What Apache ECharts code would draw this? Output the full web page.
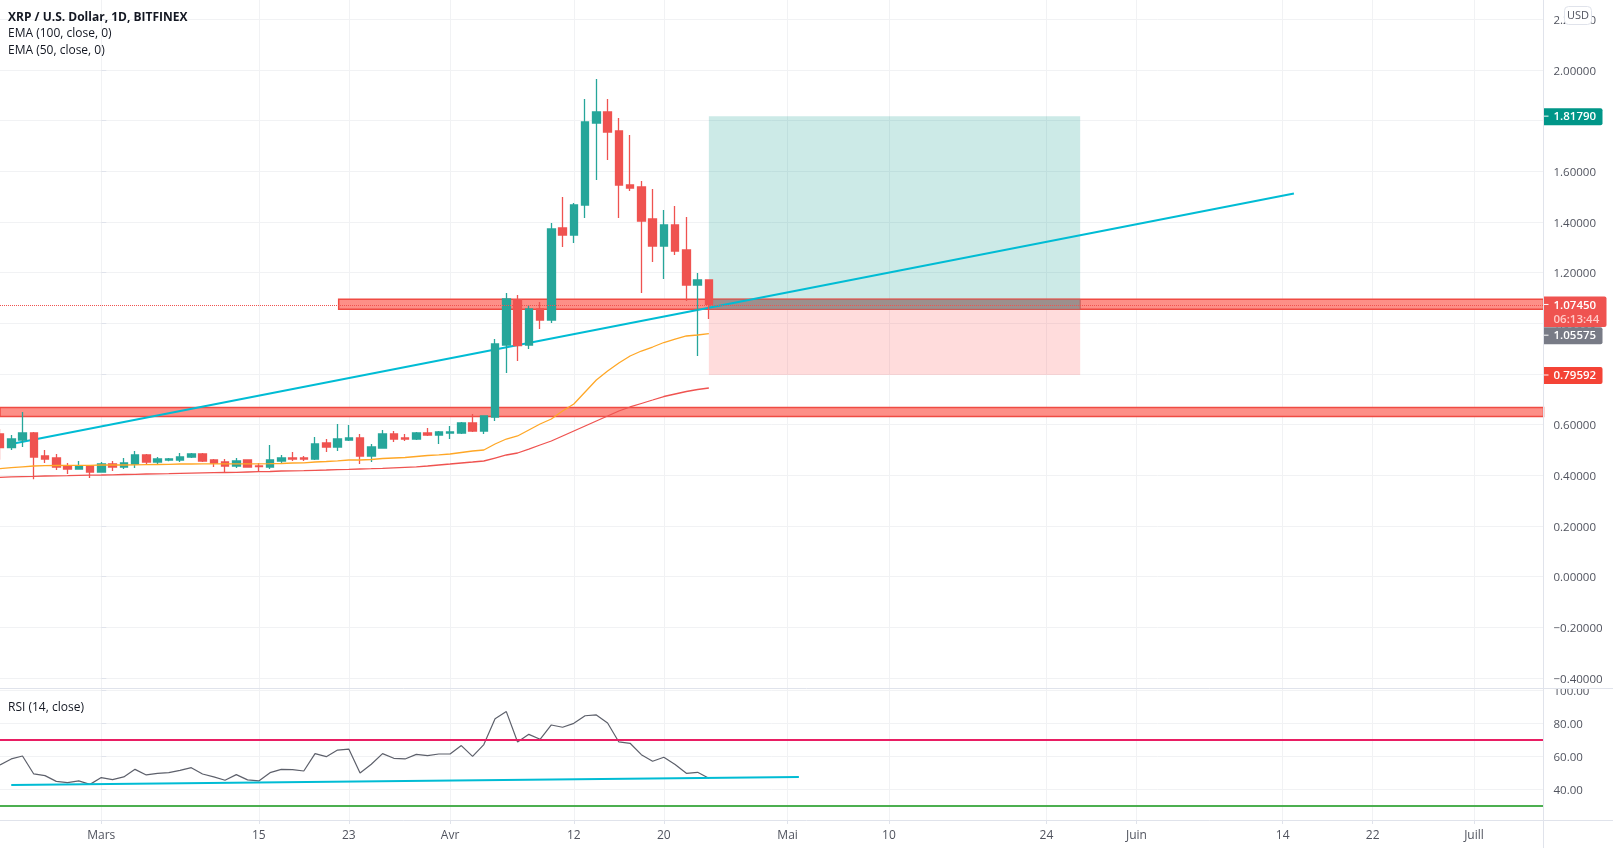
<!DOCTYPE html>
<html>
<head>
<meta charset="utf-8">
<title>XRP / U.S. Dollar</title>
<style>
  html, body { margin: 0; padding: 0; background: #fff; }
  #chart { width: 1613px; height: 848px; }
</style>
<script src="https://cdn.jsdelivr.net/npm/echarts@6/dist/echarts.min.js"></script>
</head>
<body>
<div id="chart"></div>
<script>
// days are counted from 1 March, candles start 9 days before that
var firstDay = -9;

var opens = [.5630, .5090, .5393, .5669, .4761, .4682, .4366, .4248, .4366, .4129, .4445, .4327, .4445, .4801, .4524, .4603,
    .4603, .4722, .4840, .4603, .4524, .4366, .4603, .4366, .4327, .4564, .4682, .4682, .4643, .5274, .5116, .5393,
    .5472, .4761, .5077, .5630, .5472, .5432, .5669, .5590, .5669, .5669, .6064, .5748, .6301, .9143, 1.0920, .9143,
    1.0565, 1.0130, 1.3762, 1.3486, 1.4670, 1.7908, 1.8342, 1.7592, 1.5460, 1.5381, 1.4118, 1.3052, 1.3881, 1.2894, 1.1512, 1.1709];
var closes = [.5090, .5432, .5669, .4722, .4643, .4327, .4248, .4366, .4129, .4445, .4327, .4485, .4801, .4524, .4643, .4643,
    .4722, .4840, .4564, .4485, .4366, .4564, .4327, .4340, .4603, .4682, .4643, .4643, .5235, .5116, .5432, .5472,
    .4761, .5116, .5630, .5432, .5432, .5669, .5590, .5709, .5709, .6064, .5748, .6340, .9183, 1.0960, .9116, 1.0565,
    1.0130, 1.3723, 1.3486, 1.4670, 1.7947, 1.8342, 1.7552, 1.5460, 1.5342, 1.4039, 1.3052, 1.3881, 1.2854, 1.1512, 1.1709, 1.0745];
var lows = [.4616, .4998, .5116, .3840, .4485, .4208, .4051, .4248, .3893, .4103, .4169, .4248, .4287, .4406, .4445, .4551,
    .4524, .4682, .4524, .4327, .4129, .4287, .4327, .4169, .4248, .4485, .4564, .4564, .4603, .4919, .4958, .5353,
    .4445, .4524, .5077, .5314, .5353, .5393, .5551, .5235, .5432, .5630, .5709, .5630, .6143, .8038, .8512, .8985,
    .9775, 1.0012, 1.3012, 1.3170, 1.4157, 1.5657, 1.6447, 1.4157, 1.5223, 1.1196, 1.2420, 1.1749, 1.2697, 1.0880, .8709, 1.0170];
var highs = [.5827, .5590, .6498, .5709, .4998, .4840, .4485, .4564, .4392, .4524, .4564, .4682, .4958, .4840, .4722, .4682,
    .4879, .4879, .4879, .4643, .4643, .4682, .4603, .4485, .5195, .4801, .4919, .4761, .5511, .5432, .6024, .5985,
    .5630, .5235, .5788, .5748, .5630, .5709, .5866, .5748, .5945, .6103, .6419, .6340, .9380, 1.1196, 1.1117, 1.0722,
    1.0841, 1.3960, 1.4986, 1.4749, 1.8855, 1.9645, 1.8855, 1.8105, 1.7434, 1.5618, 1.5302, 1.4473, 1.4631, 1.4197, 1.1986, 1.1709];

var ema50 = [.4260, .4299, .4335, .4366, .4378, .4386, .4390, .4394, .4394, .4406, .4406, .4406, .4410, .4418, .4426, .4433,
    .4445, .4445, .4449, .4449, .4449, .4453, .4453, .4453, .4457, .4465, .4485, .4493, .4524, .4544, .4572, .4603,
    .4603, .4623, .4662, .4682, .4702, .4741, .4781, .4808, .4840, .4899, .4958, .4998, .5235, .5432, .5551, .5788,
    .6024, .6222, .6538, .6814, .7288, .7761, .8117, .8433, .8709, .8906, .9064, .9242, .9380, .9499, .9538, .9589];
var ema100 = [.3920, .3936, .3948, .3956, .3972, .3980, .3987, .3999, .4007, .4011, .4019, .4031, .4039, .4051, .4058, .4066,
    .4078, .4086, .4094, .4102, .4110, .4118, .4130, .4141, .4149, .4169, .4177, .4185, .4197, .4208, .4220, .4232,
    .4248, .4260, .4276, .4295, .4315, .4335, .4366, .4406, .4445, .4485, .4524, .4564, .4682, .4801, .4880, .5037,
    .5196, .5353, .5551, .5748, .5946, .6143, .6340, .6538, .6696, .6834, .6972, .7110, .7209, .7308, .7387, .7446];
var rsi = [54.85, 58.5, 60.3, 49.4, 48.4, 44.9, 44.1, 45.2, 43.1, 47.2, 46.0, 47.6, 52.2, 48.8, 49.8, 50.2,
    51.6, 53.2, 49.4, 47.6, 45.6, 49.0, 45.8, 45.2, 50.2, 52.2, 52.0, 51.2, 61.7, 59.9, 63.9, 64.5,
    50.0, 55.3, 61.7, 58.9, 58.5, 61.3, 60.5, 61.5, 61.5, 66.6, 60.1, 67.2, 82.9, 87.2, 68.8, 73.4,
    70.4, 79.1, 77.7, 80.1, 84.7, 85.2, 80.3, 68.8, 68.0, 61.1, 57.1, 59.5, 55.1, 49.8, 50.4, 46.8];

// axes
var dayTicks = [0, 14, 22, 31, 42, 50, 61, 70, 84, 92, 105, 113, 122];
var dayLabels = ['Mars', '15', '23', 'Avr', '12', '20', 'Mai', '10', '24', 'Juin', '14', '22', 'Juill'];
var priceTicks = [2.2, 2, 1.8, 1.6, 1.4, 1.2, 1, 0.8, 0.6, 0.4, 0.2, 0, -0.2, -0.4];
var rsiTicks = [100, 80, 60, 40];

// drawings: [day, price] ends
var trendPrice = [[-8, .5235], [106, 1.5124]];
var trendRsi = [[-8, 42.7], [62, 47.6]];
var lastPrice = 1.0745;
var zoneHigh = [1.0947, 1.0553];
var zoneLow = [.6676, .6321];
var zoneHighStart = 21.1;
var longStart = 54;
var longEnd = 87;
var takeProfit = 1.8179;
var entry = 1.05575;
var stopLoss = .79592;

// price tags on the right axis
var tagValues = [1.8179, 1.0745, 1.05575, .79592];
var tagTexts = ['1.81790', '1.07450', '1.05575', '0.79592'];
var tagColors = ['#009688', '#ef5350', '#787b86', '#f44336'];
var countdown = '06:13:44';

var font = '"Open Sans", sans-serif';
var gridColor = '#f1f2f4';
var lineColor = '#e0e3eb';
var textColor = '#50535e';
var xMin = -9;
var xMax = 128.18;

function series2(days, values) {
    return values.map(function (v, i) { return [days + i, v]; });
}

var candles = opens.map(function (o, i) {
    return [firstDay + i, o, closes[i], lows[i], highs[i]];
});

function area(x0, x1, top, bottom, style) {
    return [{ xAxis: x0, yAxis: top, itemStyle: style }, { xAxis: x1, yAxis: bottom }];
}

var zoneStyle = { color: '#fd8f87', borderColor: '#ef4b43', borderWidth: 1.5, opacity: 1 };

function renderTag(params, api) {
    var i = params.dataIndex;
    var p = api.coord([xMax, api.value(1)]);
    var isLast = i === 1;
    // the entry tag would sit under the last price tag, the chart pushes it below
    var cy = i === 2 ? p[1] + 26 : p[1];
    var kids = [
        { type: 'rect', shape: { x: p[0], y: cy - 8, width: isLast ? 63 : 59, height: isLast ? 30.5 : 17, r: [0, 2, 2, 0] }, style: { fill: tagColors[i] } },
        { type: 'rect', shape: { x: p[0], y: cy - 0.5, width: 5, height: 1 }, style: { fill: '#fff' } },
        { type: 'text', style: { text: tagTexts[i], x: p[0] + 10, y: cy + 1, fill: '#fff', font: '600 11.5px ' + font, textVerticalAlign: 'middle' } }
    ];
    if (isLast) {
        kids.push({ type: 'text', style: { text: countdown, x: p[0] + 10, y: cy + 15, fill: '#ffc9c6', font: '600 11.5px ' + font, textVerticalAlign: 'middle' } });
    }
    return { type: 'group', children: kids };
}

// rich text so the digits sit about a pixel lower, as in the picture
var axisRich = { t: { color: textColor, fontFamily: font, fontSize: 11.5, padding: [3, 0, 0, 0] } };

var option = {
    animation: false,
    backgroundColor: '#fff',
    title: [
        { text: 'XRP / U.S. Dollar, 1D, BITFINEX', left: 8, top: 12, padding: 0, textStyle: { fontFamily: font, fontSize: 12, fontWeight: 700, color: '#131722' } },
        { text: 'EMA (100, close, 0)', left: 8, top: 28, padding: 0, textStyle: { fontFamily: font, fontSize: 12, fontWeight: 400, color: '#131722' } },
        { text: 'EMA (50, close, 0)', left: 8, top: 45, padding: 0, textStyle: { fontFamily: font, fontSize: 12, fontWeight: 400, color: '#131722' } },
        { text: 'RSI (14, close)', left: 8, top: 702, padding: 0, textStyle: { fontFamily: font, fontSize: 12, fontWeight: 400, color: '#131722' } }
    ],
    grid: [
        { left: 0, right: 69.5, top: 0, height: 688 },
        { left: 0, right: 69.5, top: 689, height: 131 }
    ],
    xAxis: [
        {
            type: 'value', gridIndex: 0, min: xMin, max: xMax,
            axisLine: { show: false }, axisTick: { show: false, customValues: dayTicks },
            axisLabel: { show: false, customValues: dayTicks },
            splitLine: { show: true, lineStyle: { color: gridColor, width: 1 } }
        },
        {
            type: 'value', gridIndex: 1, min: xMin, max: xMax,
            axisLine: { show: false },
            axisTick: { show: true, length: 4, customValues: dayTicks, lineStyle: { color: lineColor } },
            axisLabel: {
                customValues: dayTicks, margin: 10, color: textColor, fontFamily: font, fontSize: 12,
                formatter: function (v) { return dayLabels[dayTicks.indexOf(v)]; }
            },
            splitLine: { show: true, lineStyle: { color: gridColor, width: 1 } }
        }
    ],
    yAxis: [
        {
            type: 'value', gridIndex: 0, position: 'right', min: -0.4398, max: 2.2764,
            axisLine: { show: false },
            axisTick: { show: true, length: 5, customValues: priceTicks, lineStyle: { color: lineColor } },
            axisLabel: {
                customValues: priceTicks, margin: 10, rich: axisRich,
                formatter: function (v) { return '{t|' + v.toFixed(5).replace('-', '\u2212') + '}'; }
            },
            splitLine: { show: true, lineStyle: { color: gridColor, width: 1 } }
        },
        {
            type: 'value', gridIndex: 1, position: 'right', min: 21.5, max: 100.9,
            axisLine: { show: false },
            axisTick: { show: true, length: 5, customValues: rsiTicks, lineStyle: { color: lineColor } },
            axisLabel: {
                customValues: rsiTicks, margin: 10, rich: axisRich,
                formatter: function (v) { return '{t|' + v.toFixed(2) + '}'; }
            },
            splitLine: { show: true, lineStyle: { color: gridColor, width: 1 } }
        }
    ],
    series: [
        {
            name: 'Zones', type: 'line', xAxisIndex: 0, yAxisIndex: 0, data: [], silent: true,
            markArea: {
                silent: true,
                data: [
                    area(longStart, longEnd, takeProfit, entry, { color: 'rgba(0,150,136,0.2)' }),
                    area(longStart, longEnd, entry, stopLoss, { color: 'rgba(255,82,82,0.2)' }),
                    area(zoneHighStart, xMax, zoneHigh[0], zoneHigh[1], zoneStyle),
                    area(xMin, xMax, zoneLow[0], zoneLow[1], zoneStyle),
                    area(longStart, longEnd, zoneHigh[0], zoneHigh[1], { color: '#9d8f8d', borderColor: '#c65f59', borderWidth: 1 })
                ]
            }
        },
        {
            name: 'Trend', type: 'line', xAxisIndex: 0, yAxisIndex: 0, data: trendPrice, z: 2,
            showSymbol: false, symbol: 'none', silent: true, lineStyle: { color: '#00bcd4', width: 2 }
        },
        {
            name: 'XRP', type: 'candlestick', xAxisIndex: 0, yAxisIndex: 0, z: 3,
            barWidth: 8, data: candles, encode: { x: 0, y: [1, 2, 3, 4] },
            itemStyle: { color: '#26a69a', color0: '#ef5350', borderColor: '#26a69a', borderColor0: '#ef5350', borderWidth: 1.3 },
            markLine: {
                silent: true, symbol: 'none', label: { show: false }, animation: false,
                lineStyle: { color: '#ef5350', type: 'dotted', width: 1 },
                data: [{ yAxis: lastPrice }]
            }
        },
        {
            name: 'EMA 50', type: 'line', xAxisIndex: 0, yAxisIndex: 0, data: series2(firstDay, ema50), z: 4,
            showSymbol: false, symbol: 'none', silent: true, lineStyle: { color: '#ffa726', width: 1.3 }
        },
        {
            name: 'EMA 100', type: 'line', xAxisIndex: 0, yAxisIndex: 0, data: series2(firstDay, ema100), z: 4,
            showSymbol: false, symbol: 'none', silent: true, lineStyle: { color: '#ef5350', width: 1.3 }
        },
        {
            name: 'Tags', type: 'custom', xAxisIndex: 0, yAxisIndex: 0, z: 10, silent: true, clip: false,
            renderItem: renderTag, encode: { x: 0, y: 1 },
            data: tagValues.map(function (v) { return [xMax, v]; })
        },
        {
            name: 'RSI', type: 'line', xAxisIndex: 1, yAxisIndex: 1, data: series2(firstDay, rsi), z: 3,
            showSymbol: false, symbol: 'none', silent: true, lineStyle: { color: '#5d606b', width: 1.2 },
            markLine: {
                silent: true, symbol: 'none', label: { show: false }, animation: false,
                data: [
                    { yAxis: 70, lineStyle: { color: '#e91e63', type: 'solid', width: 2 } },
                    { yAxis: 30, lineStyle: { color: '#4caf50', type: 'solid', width: 2 } }
                ]
            }
        },
        {
            name: 'RSI trend', type: 'line', xAxisIndex: 1, yAxisIndex: 1, data: trendRsi, z: 4,
            showSymbol: false, symbol: 'none', silent: true, lineStyle: { color: '#00bcd4', width: 2 }
        }
    ],
    graphic: [
        // the 100.00 label is cut by the pane separator
        { type: 'rect', z: 50, silent: true, shape: { x: 1545, y: 683.5, width: 68, height: 4.5 }, style: { fill: '#fff' } },
        { type: 'line', z: 60, silent: true, shape: { x1: 0, y1: 688.5, x2: 1613, y2: 688.5 }, style: { stroke: lineColor, lineWidth: 1 } },
        { type: 'line', z: 60, silent: true, shape: { x1: 0, y1: 820.5, x2: 1613, y2: 820.5 }, style: { stroke: lineColor, lineWidth: 1 } },
        { type: 'line', z: 60, silent: true, shape: { x1: 1543.5, y1: 0, x2: 1543.5, y2: 848 }, style: { stroke: lineColor, lineWidth: 1 } },
        { type: 'rect', z: 70, silent: true, shape: { x: 1564.5, y: 6.5, width: 27, height: 18, r: 4 }, style: { fill: '#fff', stroke: lineColor, lineWidth: 1 } },
        { type: 'text', z: 71, silent: true, x: 1578, y: 15.5, style: { text: 'USD', fill: textColor, font: '11px ' + font, textAlign: 'center', textVerticalAlign: 'middle' } }
    ]
};

var myChart = echarts.init(document.getElementById('chart'));
myChart.setOption(option);
</script>
</body>
</html>
